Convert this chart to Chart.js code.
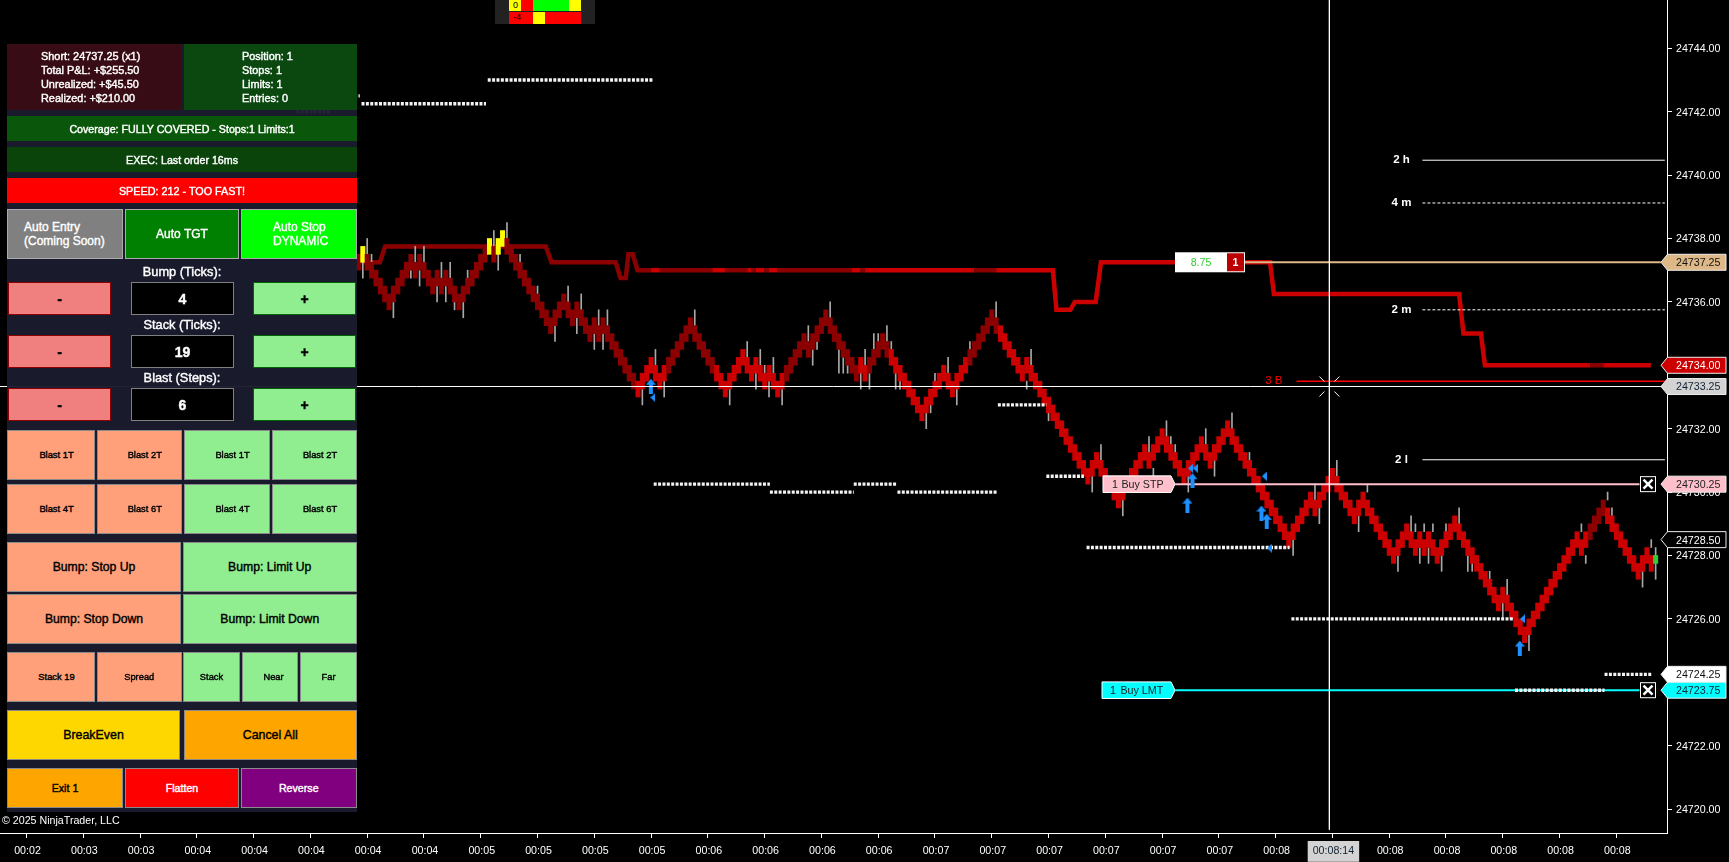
<!DOCTYPE html>
<html>
<head>
<meta charset="utf-8">
<title>NinjaTrader chart</title>
<script src="https://cdn.jsdelivr.net/npm/chart.js@4"></script>
<style>
  html, body { margin: 0; background: #000; overflow: hidden; }
  #wrap { position: relative; width: 1729px; height: 862px; font-family: "Liberation Sans", Arial, sans-serif; }
  #chart { position: absolute; left: 0; top: 0; }
  #panel { position: absolute; left: 7px; top: 44px; width: 350px; height: 768px; background: rgba(26,28,46,0.96); }
  .box { position: absolute; box-sizing: border-box; display: flex; align-items: center; justify-content: center; white-space: pre; -webkit-text-stroke: 0.4px; color: #000; }
  .lbl { position: absolute; white-space: pre; -webkit-text-stroke: 0.4px; color: #fff; }
  #copy { position: absolute; left: 2px; top: 814px; color: #fff; font-size: 10.67px; line-height: 12px; }
  .heat { position: absolute; font-size: 9px; color: #000; padding-left: 4px; box-sizing: border-box; line-height: 11px; }
</style>
</head>
<body>
<div id="wrap">
  <canvas id="chart" width="1729" height="862"></canvas>
  <div id="panel"></div>
  <div id="copy">© 2025 NinjaTrader, LLC</div>
</div>
<script>
// x axis: one tick every 13 bars
const xTickLabels = ["00:02","00:03","00:03","00:04","00:04","00:04","00:04","00:04","00:05","00:05","00:05","00:05",
  "00:06","00:06","00:06","00:06","00:07","00:07","00:07","00:07","00:07","00:07","00:08","00:08:14",
  "00:08","00:08","00:08","00:08","00:08"];
const crossTickIndex = 23;
const yTicks = [24720,24722,24724,24726,24728,24730,24732,24734,24736,24738,24740,24742,24744];

// top of each bar body, first one is bar 76
const firstBar = 76;
const barTops = [
  24737.5,24737.75,24737.5,24737.25,24737,24736.75,24736.5,24736.25,24736.5,24736.75,24737,24737.25,
  24737.5,24737.25,24737.5,24737.25,24737,24736.75,24737,24736.75,24737,24736.75,24736.5,24736.25,
  24736.5,24736.75,24737,24737.25,24737.5,24737.75,24738,24737.75,24738,24738.25,24738,24737.75,
  24737.5,24737.25,24737,24736.75,24736.5,24736.25,24736,24735.75,24735.5,24735.75,24736,24736.25,
  24736,24735.75,24736,24735.75,24735.5,24735.25,24735.5,24735.25,24735.5,24735.25,24735,24734.75,
  24734.5,24734.25,24734,24733.75,24733.5,24733.75,24734,24734.25,24734,24733.75,24734,24734.25,
  24734.5,24734.75,24735,24735.25,24735.5,24735.25,24735,24734.75,24734.5,24734.25,24734,24733.75,
  24733.5,24733.75,24734,24734.25,24734.5,24734.25,24734,24734.25,24734,24733.75,24734,24733.75,
  24733.5,24733.75,24734,24734.25,24734.5,24734.75,24735,24734.75,24735,24735.25,24735.5,24735.75,
  24735.5,24735.25,24735,24734.75,24734.5,24734.25,24734,24734.25,24734,24734.25,24734.5,24734.75,
  24735,24734.75,24734.5,24734.25,24734,24733.75,24733.5,24733.25,24733,24732.75,24733,24733.25,
  24733.5,24733.75,24734,24733.75,24733.5,24733.75,24734,24734.25,24734.5,24734.75,24735,24735.25,
  24735.5,24735.75,24735.5,24735.25,24735,24734.75,24734.5,24734.25,24734,24734.25,24734,24733.75,
  24733.5,24733.25,24733,24732.75,24732.5,24732.25,24732,24731.75,24731.5,24731.25,24731,24730.75,
  24731,24731.25,24731,24730.75,24730.5,24730.25,24730,24730.25,24730.5,24730.75,24731,24731.25,
  24731.5,24731.25,24731.5,24731.75,24732,24731.75,24731.5,24731.25,24731,24730.75,24731,24731.25,
  24731.5,24731.75,24731.5,24731.25,24731.5,24731.75,24732,24732.25,24732,24731.75,24731.5,24731.25,
  24731,24730.75,24730.5,24730.25,24730,24729.75,24729.5,24729.25,24729,24728.75,24729,24729.25,
  24729.5,24729.75,24730,24729.75,24730,24730.25,24730.5,24730.75,24730.5,24730.25,24730,24729.75,
  24729.5,24729.75,24730,24729.75,24729.5,24729.25,24729,24728.75,24728.5,24728.25,24728.5,24728.75,
  24729,24728.75,24728.5,24728.75,24728.5,24728.75,24728.5,24728.25,24728.5,24728.75,24729,24729.25,
  24729,24728.75,24728.5,24728.25,24728,24727.75,24727.5,24727.25,24727,24726.75,24727,24726.75,
  24726.5,24726.25,24726,24725.75,24726,24726.25,24726.5,24726.75,24727,24727.25,24727.5,24727.75,
  24728,24728.25,24728.5,24728.75,24728.5,24728.75,24729,24729.25,24729.5,24729.75,24729.5,24729.25,
  24729,24728.75,24728.5,24728.25,24728,24727.75,24728,24728.25,24728
];
const bodySize = 0.5;
const liveBar = [373, 24727.75, 24728];
const yellowBars = [77,106,108,109];
const brightBars = [[140,147],[158,174],[191,193],[198,216],[223,358],[362,373]];

// thin wicks: bar, high, low
const wicks = [
  [77,24737.25,24736.75],[78,24738,24737.5],[79,24737.5,24737.25],[84,24736,24735.5],[88,24737,24736.75],[89,24737.75,24737.25],
  [90,24737,24736.5],[91,24737.75,24737.25],[94,24736.5,24736],[95,24737.25,24736.75],[96,24736.5,24736],[97,24737.25,24736.75],
  [98,24736,24735.75],[100,24736,24735.5],[101,24737,24736.75],[107,24738.25,24737.75],[108,24737.5,24737],[110,24738.5,24738],
  [113,24737.5,24737.25],[117,24736.5,24736.25],[121,24735.25,24734.75],[124,24736.5,24736],[126,24735.5,24735],[127,24736.25,24735.75],
  [130,24735,24734.5],[131,24735.75,24735.25],[132,24735,24734.5],[133,24735.75,24735.25],[141,24733.25,24732.75],[144,24734.5,24734],
  [146,24733.5,24733],[153,24735.75,24735.25],[161,24733.25,24732.75],[165,24734.75,24734.25],[167,24733.75,24733.25],[168,24734.5,24734],
  [169,24734,24733.75],[170,24733.5,24733],[171,24734.25,24733.75],[173,24733.25,24732.75],[179,24735.25,24734.75],[180,24734.5,24734],
  [181,24734.75,24734.5],[184,24736,24735.5],[186,24734.5,24733.75],[187,24734.25,24733.75],[188,24734,24733.75],[191,24733.75,24733.25],
  [192,24734.5,24734],[193,24733.75,24733.25],[194,24735,24734.5],[195,24735,24734.75],[197,24735.25,24734.75],[198,24734.75,24734.5],
  [199,24733.75,24733.25],[200,24733.5,24733.25],[206,24732.5,24732],[207,24732.75,24732.5],[208,24733.75,24733.5],[211,24734.25,24733.75],
  [213,24733.25,24732.75],[216,24734.75,24734.5],[222,24736,24735.5],[229,24733.5,24733.25],[230,24734.5,24734],[234,24732.5,24732.25],
  [244,24730.5,24730],[246,24731.5,24731],[251,24729.75,24729.25],[257,24731.75,24731.25],[258,24730.75,24730.5],[261,24732.25,24731.75],
  [262,24731.75,24731.5],[263,24731.5,24731.25],[266,24730.5,24730],[270,24732,24731.5],[272,24731,24730.5],[276,24732.5,24732],
  [280,24731.25,24731],[290,24728.5,24728],[295,24730.25,24729.75],[296,24729.5,24729],[300,24731,24730.5],[305,24729.25,24728.75],
  [307,24730.25,24730],[314,24728,24727.5],[317,24729.25,24728.75],[318,24729,24728.75],[319,24728.25,24727.75],[320,24729,24728.75],
  [321,24728.25,24727.75],[322,24729,24728.75],[324,24728,24727.5],[325,24729,24728.75],[328,24729.5,24729],[330,24728,24727.5],
  [331,24727.75,24727.5],[335,24727.5,24727.25],[338,24726.5,24726],[339,24727.25,24726.75],[344,24725.5,24725],[356,24729,24728.75],
  [357,24728,24727.75],[362,24730,24729.75],[363,24729.5,24729.25],[370,24727.5,24727],[372,24728.5,24728.25],[373,24728.25,24727.25]
];

// stop line
const maBars = [75.9,80.9,82.1,118.9,120.2,134.9,136,137.2,137.8,138.8,139.9,143,145,157,160,165,166,167,169,170,172,189,191,192,199,217,222,235,235.8,239,240,244.8,246,284.7,285.6,328,329,333,333.9,358,361,371.9];
const maPrices = [24737.25,24737.25,24737.75,24737.75,24737.25,24737.25,24736.75,24736.75,24737.5,24737.5,24737,24737,24737,24737,24737,24737,24737,24737,24737,24737,24737,24737,24737,24737,24737,24737,24737,24737,24735.75,24735.75,24736,24736,24737.25,24737.25,24736.25,24736.25,24735,24735,24734,24734,24734,24734];
const brightMa = [[143,145],[157,160],[165,166],[167,169],[170,172],[189,191],[192,217],[222,358],[361,372]];

// dotted levels
const dotFrom = [-4.2,7.4,61.8,70,76.7,105.6,143.6,170.2,189.4,199.4,222.4,233.5,242.7,289.6,340.8,361.3];
const dotTo = [7.4,61.8,69.5,76.3,105.2,143.4,170.2,189.4,199.4,222.4,233.5,242.1,289.2,340.3,361.3,372.2];
const dotPrices = [24740.25,24740.75,24742,24742.5,24742.25,24743,24730.25,24730,24730.25,24730,24732.75,24730.5,24728.25,24726,24723.75,24724.25];

// fills
const arrowBars = [142.95,265.8,266.95,282.75,283.95,341.9];
const arrowPrices = [24733.34,24729.59,24730.36,24729.34,24729.08,24725.08];
const triBars = [143.4,266.5,267.6,283.4,284.6,342.5];
const triPrices = [24732.98,24730.75,24730.75,24730.5,24728.23,24726];

// ladder on the right
const ladderText = ["2 h","4 m","2 m","2 l","3 B"];
const ladderPrices = [24740.47,24739.12,24735.75,24731.02,24733.5];
const ladderFrom = [319.6,319.6,319.6,319.6,290.8];
const ladderTextBar = [314.8,314.8,314.8,314.8,285.6];
const ladderColors = ["#fff","#fff","#fff","#fff","#f00"];
const ladderDash = [[],[3,2],[3,2],[],[]];
const ladderWidth = [1,1,1,1,1.5];

// orders
const entryPrice = 24737.25, stopPrice = 24730.25, limitPrice = 24723.75;
const crossBar = 298.3, crossPrice = 24733.33;

const flagPrices = [24737.25,24734,24733.33,24730.25,24728.5,24724.25,24723.75];
const flagText = ["24737.25","24734.00","24733.25","24730.25","24728.50","24724.25","24723.75"];
const flagFill = ["#deb887","#cc0000","#d3d3d3","#ffc0cb","#000","#fff","#00ffff"];
const flagInk = ["#111","#fff","#123","#222","#fff","#111","#123"];

const FONT = '"Liberation Sans", Arial, sans-serif';

function inRanges(v, list) { return list.some(r => v >= r[0] && v < r[1]); }

function barColor(i) {
  if (yellowBars.includes(i)) return "#ffff00";
  return inRanges(i, brightBars) ? "#cc0000" : "#8b0000";
}

function shape(w, h, pts) {
  const c = document.createElement("canvas");
  c.width = w; c.height = h;
  const g = c.getContext("2d");
  g.fillStyle = "#1e90ff";
  g.beginPath();
  pts.forEach((p, i) => i ? g.lineTo(p[0], p[1]) : g.moveTo(p[0], p[1]));
  g.closePath();
  g.fill();
  return c;
}
const arrowImg = shape(10, 15, [[5,0],[10,6],[7,6],[7,15],[3,15],[3,6],[0,6]]);
const triImg = shape(5, 9, [[0,4.5],[5,0],[5,9]]);

const bars = barTops.map((t, k) => ({ x: firstBar + k, y: [t - bodySize, t] }));
bars.push({ x: liveBar[0], y: [liveBar[1], liveBar[2]] });
const barColors = barTops.map((t, k) => barColor(firstBar + k));
barColors.push("#32cd32");

function flat(x1, x2, y, color, width, dash, order) {
  return { type: "line", data: [{ x: x1, y: y }, { x: x2, y: y }], borderColor: color, borderWidth: width,
    borderDash: dash || [], pointRadius: 0, order: order };
}

const datasets = [
  { type: "bar", data: wicks.map(w => ({ x: w[0], y: [w[2], w[1]] })), backgroundColor: "#a8a8a8", barThickness: 1, grouped: false, order: 9 },
  { type: "line", data: maBars.map((b, i) => ({ x: b, y: maPrices[i] })), borderWidth: 4.5, pointRadius: 0, borderColor: "#8b0000",
    borderCapStyle: "butt", borderJoinStyle: "miter",
    segment: { borderColor: c => inRanges(c.p0.parsed.x, brightMa) ? "#cc0000" : "#8b0000" }, order: 10 },
  { type: "bar", data: bars, backgroundColor: barColors, barThickness: 4.37, grouped: false, order: 8 },
  { type: "line", data: dotFrom.flatMap((f, i) => [{ x: f, y: dotPrices[i] }, { x: dotTo[i], y: dotPrices[i] }, { x: dotTo[i], y: null }]),
    borderColor: "#f4f4f4", borderWidth: 3.4, borderDash: [3, 1.37], pointRadius: 0, spanGaps: false, order: 5 },
  flat(278.9, 374.2, entryPrice, "#deb887", 2, [], 7),
  flat(263, 369.3, stopPrice, "#ffc0cb", 2, [], 7),
  flat(263, 369.3, limitPrice, "#00ffff", 2, [], 7),
  { type: "scatter", data: arrowBars.map((b, i) => ({ x: b, y: arrowPrices[i] })), pointStyle: arrowImg, order: 3 },
  { type: "scatter", data: triBars.map((b, i) => ({ x: b, y: triPrices[i] })), pointStyle: triImg, order: 3 },
  flat(-6.07, 375.6, crossPrice, "#fff", 1, [], 2),
  { type: "line", data: [{ x: crossBar, y: 24745.52 }, { x: crossBar, y: 24719.35 }], borderColor: "#fff", borderWidth: 1, pointRadius: 0, order: 2 }
];
ladderText.forEach((t, i) => {
  datasets.push(flat(ladderFrom[i], 375.1, ladderPrices[i], ladderColors[i], ladderWidth[i], ladderDash[i], 6));
});

// ladder text, order tags, price flags, crosshair ticks
const overlay = {
  id: "overlay",
  afterDraw(chart) {
    const g = chart.ctx, xs = chart.scales.x, ys = chart.scales.y;
    g.save();
    g.textBaseline = "middle";

    ladderText.forEach((t, i) => {
      g.font = (i < 4 ? "bold " : "") + "11.5px " + FONT;
      g.fillStyle = ladderColors[i];
      g.textAlign = "center";
      g.fillText(t, xs.getPixelForValue(ladderTextBar[i]), ys.getPixelForValue(ladderPrices[i]));
    });

    // fill tag
    const ey = ys.getPixelForValue(entryPrice);
    g.fillStyle = "#fff";
    g.fillRect(1175, ey - 10, 70, 20);
    g.fillStyle = "#bb0000";
    g.fillRect(1227, ey - 9, 17, 18);
    g.font = "10.67px " + FONT;
    g.textAlign = "center";
    g.fillStyle = "#32cd32";
    g.fillText("8.75", 1201, ey + 1);
    g.font = "bold 10.67px " + FONT;
    g.fillStyle = "#fff";
    g.fillText("1", 1235.5, ey + 1);

    // order tags
    [[stopPrice, "#ffc0cb", 1103, "1", "Buy STP", 1112, 1121.5], [limitPrice, "#00ffff", 1102, "1", "Buy LMT", 1110, 1120.5]].forEach(o => {
      const y = ys.getPixelForValue(o[0]);
      g.beginPath();
      g.moveTo(o[2], y - 8.3); g.lineTo(1171, y - 8.3); g.lineTo(1175, y); g.lineTo(1171, y + 8.3); g.lineTo(o[2], y + 8.3);
      g.closePath();
      g.fillStyle = o[1];
      g.fill();
      g.strokeStyle = "#fff";
      g.lineWidth = 1;
      g.stroke();
      g.fillStyle = "#222";
      g.font = "10.67px " + FONT;
      g.textAlign = "left";
      g.fillText(o[3], o[5], y + 1);
      g.fillText(o[4], o[6], y + 1);

      // cancel box
      g.fillStyle = "#000";
      g.fillRect(1640.5, y - 7.5, 15, 15);
      g.strokeStyle = "#fff";
      g.lineWidth = 1;
      g.strokeRect(1640.5, y - 7.5, 15, 15);
      g.lineWidth = 2.5;
      g.beginPath();
      g.moveTo(1643.5, y - 4.5); g.lineTo(1652.5, y + 4.5);
      g.moveTo(1652.5, y - 4.5); g.lineTo(1643.5, y + 4.5);
      g.stroke();
    });

    // price flags
    g.textAlign = "left";
    g.font = "10.67px " + FONT;
    flagPrices.forEach((p, i) => {
      const y = ys.getPixelForValue(p);
      g.beginPath();
      g.moveTo(1661, y); g.lineTo(1667.5, y - 8); g.lineTo(1726, y - 8); g.lineTo(1726, y + 8); g.lineTo(1667.5, y + 8);
      g.closePath();
      g.fillStyle = flagFill[i];
      g.fill();
      g.strokeStyle = "#eee";
      g.lineWidth = 1;
      g.stroke();
      g.fillStyle = flagInk[i];
      g.fillText(flagText[i], 1676, y + 1);
    });

    // crosshair corners
    const cx = xs.getPixelForValue(crossBar), cy = ys.getPixelForValue(crossPrice);
    g.strokeStyle = "#fff";
    g.lineWidth = 1;
    g.beginPath();
    [[-1,-1],[1,-1],[-1,1],[1,1]].forEach(s => {
      g.moveTo(cx + s[0] * 10, cy + s[1] * 10);
      g.lineTo(cx + s[0] * 5, cy + s[1] * 5);
    });
    g.stroke();
    g.restore();
  }
};

// no extra room for the outer tick labels, plot runs to the canvas edge
function noPadding(s) { s.paddingTop = s.paddingBottom = s.paddingLeft = s.paddingRight = 0; }

new Chart(document.getElementById("chart"), {
  type: "bar",
  data: { datasets: datasets },
  plugins: [overlay],
  options: {
    responsive: false,
    animation: false,
    events: [],
    layout: { padding: 0, autoPadding: false },
    plugins: { legend: { display: false }, tooltip: { enabled: false } },
    scales: {
      x: {
        type: "linear", offset: false, min: -6.07, max: 375.6,
        afterBuildTicks: s => { s.ticks = xTickLabels.map((t, i) => ({ value: i * 13 })); },
        afterFit: s => { s.height = 29; noPadding(s); },
        grid: { offset: false, drawOnChartArea: false, tickLength: 5, color: "#fff" },
        border: { display: true, color: "#fff", width: 1 },
        ticks: {
          callback: (v, i) => xTickLabels[i], autoSkip: false, maxRotation: 0, padding: 7, labelOffset: 1,
          font: { family: FONT, size: 10.67 },
          color: c => c.index === crossTickIndex ? "#123" : "#fff",
          showLabelBackdrop: c => c.index === crossTickIndex,
          backdropColor: "#d3d3d3", backdropPadding: { x: 5, y: 4 }
        }
      },
      y: {
        type: "linear", position: "right", min: 24719.245, max: 24745.524,
        afterBuildTicks: s => { s.ticks = yTicks.map(v => ({ value: v })); },
        afterFit: s => { s.width = 62; noPadding(s); },
        grid: { drawOnChartArea: false, tickLength: 5, color: "#fff" },
        border: { display: true, color: "#fff", width: 1 },
        ticks: { callback: v => v.toFixed(2), padding: 4, labelOffset: 1, color: "#fff", font: { family: FONT, size: 10.67 } }
      }
    }
  }
});

// ---- order panel, page coordinates
const wrap = document.getElementById("wrap");
function box(l, t, r, b, bg, text, size, ink, border, extra) {
  const d = document.createElement("div");
  d.className = "box";
  d.style.cssText = `left:${l}px;top:${t}px;width:${r - l}px;height:${b - t}px;background:${bg};font-size:${size}px;color:${ink};border:${border || "1px solid #8a8a8a"};${extra || ""}`;
  d.textContent = text;
  wrap.appendChild(d);
}
function label(cx, y, text, size) {
  const d = document.createElement("div");
  d.className = "lbl";
  d.style.cssText = `left:${cx - 100}px;width:200px;text-align:center;top:${y - 7}px;line-height:14px;font-size:${size}px;`;
  d.textContent = text;
  wrap.appendChild(d);
}

const SALMON = "#ffa07a", LGREEN = "#90ee90";
const shiftText = "padding-left:11px;";   // these captions sit right of centre in the original

box(7,44,181,110,"rgba(58,12,20,.97)","Short: 24737.25 (x1)\nTotal P&L: +$255.50\nUnrealized: +$45.50\nRealized: +$210.00",10.9,"#fff","none","justify-content:flex-start;padding-left:34px;line-height:14px;");
box(184,44,357,110,"rgba(10,74,16,.97)","Position: 1\nStops: 1\nLimits: 1\nEntries: 0",10.9,"#fff","none","justify-content:flex-start;padding-left:58px;line-height:14px;");
box(7,116,357,141,"rgba(10,90,10,.97)","Coverage: FULLY COVERED - Stops:1 Limits:1",10.67,"#fff","none");
box(7,147,357,172,"rgba(10,70,10,.97)","EXEC: Last order 16ms",10.67,"#fff","none");
box(7,178,357,203,"#ff0000","SPEED: 212 - TOO FAST!",10.8,"#fff","none");

box(7,209,123,259,"#808080","Auto Entry\n(Coming Soon)",12,"#fff","1px solid #aaa","justify-content:flex-start;padding-left:16px;line-height:14px;");
box(125,209,239,259,"#008000","Auto TGT",12,"#fff","1px solid #aaa");
box(241,209,357,259,"#00ff00","Auto Stop\nDYNAMIC",12,"#fff","1px solid #aaa","justify-content:flex-start;padding-left:31px;line-height:14px;");

label(182,272,"Bump (Ticks):",12.8);
label(182,325,"Stack (Ticks):",12.8);
label(182,378,"Blast (Steps):",12.8);
[[282,315,"4"],[335,368,"19"],[388,421,"6"]].forEach(r => {
  box(8,r[0],111,r[1],"#f08080","-",14,"#000","1.5px solid #8b0000","font-weight:bold;");
  box(131,r[0],234,r[1],"#000",r[2],14,"#fff","1px solid #808080","font-weight:bold;");
  box(253,r[0],356,r[1],LGREEN,"+",14,"#000","1px solid #006400","font-weight:bold;");
});

[[430,480],[484,534]].forEach((r, k) => {
  const s = k ? ["Blast 4T","Blast 6T"] : ["Blast 1T","Blast 2T"];
  box(7,r[0],95,r[1],SALMON,s[0],9.33,"#000","",shiftText);
  box(96.5,r[0],182,r[1],SALMON,s[1],9.33,"#000","",shiftText);
  box(184,r[0],270,r[1],LGREEN,s[0],9.33,"#000","",shiftText);
  box(272,r[0],357,r[1],LGREEN,s[1],9.33,"#000","",shiftText);
});

box(7,542,181,592,SALMON,"Bump: Stop Up",12.2,"#000");
box(183,542,356.5,592,LGREEN,"Bump: Limit Up",12.2,"#000");
box(7,594,181,644,SALMON,"Bump: Stop Down",12.2,"#000");
box(183,594,356.5,644,LGREEN,"Bump: Limit Down",12.2,"#000");

box(7,652,95,702,SALMON,"Stack 19",9.33,"#000","",shiftText);
box(96.5,652,182,702,SALMON,"Spread",9.33,"#000");
box(183,652,240,702,LGREEN,"Stack",9.33,"#000");
box(242,652,298,702,LGREEN,"Near",9.33,"#000","","padding-left:7px;");
box(300,652,357,702,LGREEN,"Far",9.33,"#000");

box(7,710,180,760,"#ffd700","BreakEven",12.4,"#000");
box(184,710,356.5,760,"#ffa500","Cancel All",12.4,"#000");

box(7,768,123,808,"#ffa500","Exit 1",10.67,"#000");
box(125,768,239,808,"#ff0000","Flatten",10.67,"#fff");
box(241,768,356.5,808,"#800080","Reverse",10.67,"#fff");

// small heat strip on top
const heatCells = [
  [495,0,595,24,"#222",""],
  [509,0,521,11,"#ffff00","0"],[521,0,533,11,"#ff0000",""],[533,0,569,11,"#00ff00",""],[569,0,581,11,"#ffff00",""],
  [509,12,533,24,"#ff0000","-4"],[533,12,545,24,"#ffff00",""],[545,12,581,24,"#ff0000",""]
];
heatCells.forEach(c => {
  const d = document.createElement("div");
  d.className = "heat";
  d.style.cssText = `left:${c[0]}px;top:${c[1]}px;width:${c[2] - c[0]}px;height:${c[3] - c[1]}px;background:${c[4]};`;
  d.textContent = c[5];
  wrap.appendChild(d);
});
</script>
</body>
</html>
